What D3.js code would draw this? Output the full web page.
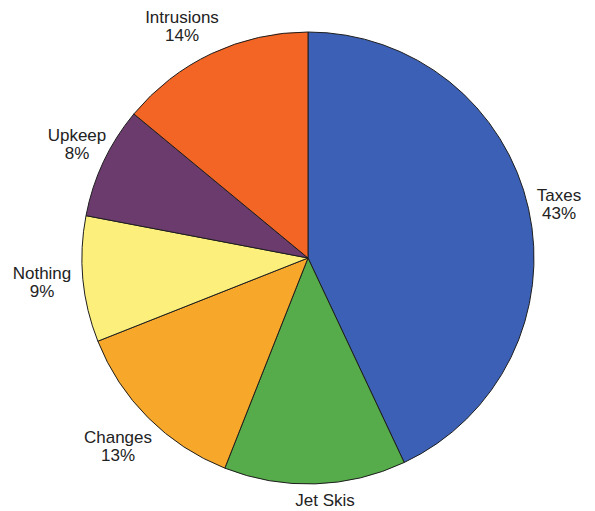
<!DOCTYPE html>
<html>
<head>
<meta charset="utf-8">
<script src="https://cdn.jsdelivr.net/npm/d3@7"></script>
<style>
  html, body { margin: 0; padding: 0; background: #fff; }
  svg { display: block; }
  text { font-family: "Liberation Sans", Arial, sans-serif; font-size: 17px; fill: #222; }
</style>
</head>
<body>
<script>
// Share of responses by category, clockwise from 12 o'clock
const categories = ["Taxes", "Jet Skis", "Changes", "Nothing", "Upkeep", "Intrusions"];
const values = [43, 13, 13, 9, 8, 14];
const colors = ["#3b60b6", "#56ab4a", "#f7a82a", "#fcef7c", "#6b3b6d", "#f26524"];
// Which labels show a percentage line
const showPct = [true, false, true, true, true, true];
// Label anchor points (first baseline, centred)
const labelPos = [[559, 201], [325, 506], [118, 443], [42, 279], [77, 141], [182, 23]];

const W = 595, H = 511;
const cx = 308, cy = 258, R = 226;

const svg = d3.select("body").append("svg").attr("width", W).attr("height", H);

const pie = d3.pie().sort(null).value(d => d.v);
const arc = d3.arc().innerRadius(0).outerRadius(R);
const data = categories.map((c, i) => ({ c, v: values[i], col: colors[i], i }));

const g = svg.append("g").attr("transform", `translate(${cx},${cy})`);
g.selectAll("path").data(pie(data)).join("path")
  .attr("d", arc)
  .attr("fill", d => d.data.col)
  .attr("stroke", "#1e1e1e")
  .attr("stroke-width", 1)
  .attr("stroke-linejoin", "round");

const labels = svg.append("g");
data.forEach((d, i) => {
  const [x, y] = labelPos[i];
  const t = labels.append("text").attr("text-anchor", "middle").attr("x", x).attr("y", y);
  t.append("tspan").attr("x", x).attr("dy", 0).text(d.c);
  if (showPct[i]) t.append("tspan").attr("x", x).attr("dy", 18).text(d.v + "%");
});
</script>
</body>
</html>
